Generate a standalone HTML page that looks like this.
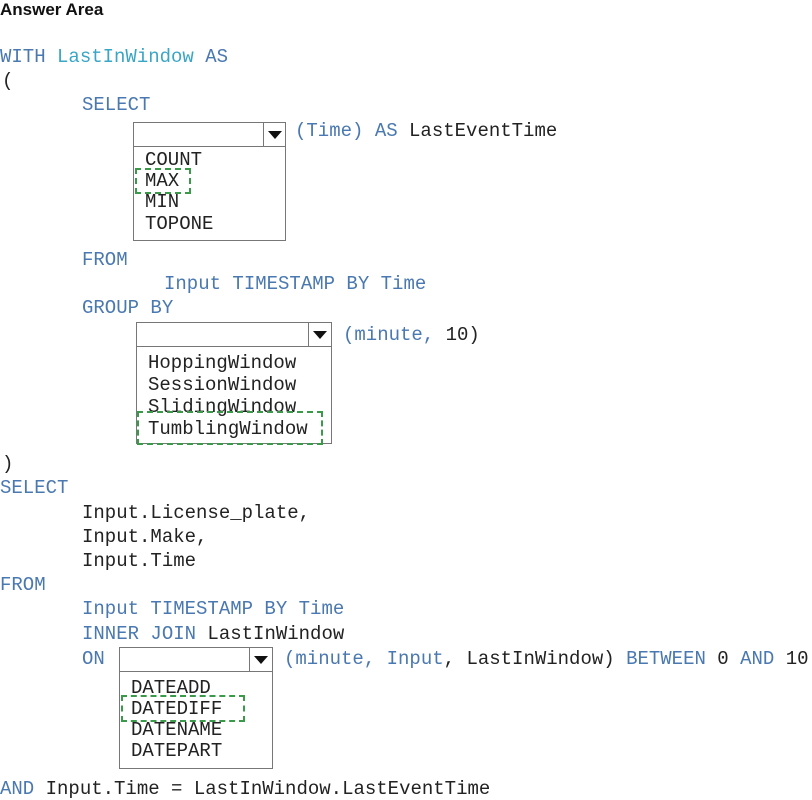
<!DOCTYPE html>
<html><head><meta charset="utf-8"><style>
body{margin:0;width:812px;height:800px;background:#fff;position:relative;overflow:hidden;font-family:"Liberation Mono",monospace;font-size:19px;color:#222}
.t{position:absolute;white-space:pre;line-height:22px;height:22px}
.k{color:#4a78b0}.c{color:#3aa6c6}
.h{position:absolute;left:0;top:0;font-family:"Liberation Sans",sans-serif;font-weight:bold;font-size:17px;color:#111;line-height:20px}
.box{position:absolute;border:1px solid #777;background:#fff}
.hd{position:absolute;border:1px solid #777;background:#fff}
.ar{position:absolute;top:0;bottom:0;right:0;border-left:1px solid #777}
.ar:after{content:"";position:absolute;left:50%;top:50%;margin-left:-7px;margin-top:-4px;border-left:7px solid transparent;border-right:7px solid transparent;border-top:8px solid #111}
.g{position:absolute;border:2px dashed #3a9a4a}
</style></head><body>
<div class="h">Answer Area</div>
<div class="t k" style="left:0;top:46px">WITH <span class="c">LastInWindow</span> AS</div>
<div class="t" style="left:2px;top:70px">(</div>
<div class="t k" style="left:82px;top:94px">SELECT</div>
<div class="hd" style="left:133px;top:122px;width:151px;height:23px"><div class="ar" style="width:21px"></div></div>
<div class="box" style="left:133px;top:146px;width:151px;height:93px"></div>
<div class="t" style="left:145px;top:149px">COUNT</div>
<div class="t" style="left:145px;top:170px">MAX</div>
<div class="t" style="left:145px;top:191px">MIN</div>
<div class="t" style="left:145px;top:213px">TOPONE</div>
<div class="g" style="left:135px;top:168px;width:52px;height:22px"></div>
<div class="t" style="left:295px;top:120px"><span class="k">(Time) AS</span> LastEventTime</div>
<div class="t k" style="left:82px;top:249px">FROM</div>
<div class="t k" style="left:164px;top:273px">Input TIMESTAMP BY Time</div>
<div class="t k" style="left:82px;top:297px">GROUP BY</div>
<div class="hd" style="left:136px;top:322px;width:194px;height:23px"><div class="ar" style="width:22px"></div></div>
<div class="box" style="left:136px;top:346px;width:194px;height:96px"></div>
<div class="t" style="left:148px;top:352px">HoppingWindow</div>
<div class="t" style="left:148px;top:374px">SessionWindow</div>
<div class="t" style="left:148px;top:396px">SlidingWindow</div>
<div class="t" style="left:148px;top:418px">TumblingWindow</div>
<div class="g" style="left:137px;top:411px;width:182px;height:30px"></div>
<div class="t" style="left:343px;top:324px"><span class="k">(minute,</span> 10)</div>
<div class="t" style="left:2px;top:453px">)</div>
<div class="t k" style="left:0;top:477px">SELECT</div>
<div class="t" style="left:82px;top:502px">Input.License_plate,</div>
<div class="t" style="left:82px;top:526px">Input.Make,</div>
<div class="t" style="left:82px;top:550px">Input.Time</div>
<div class="t k" style="left:0;top:574px">FROM</div>
<div class="t k" style="left:82px;top:598px">Input TIMESTAMP BY Time</div>
<div class="t" style="left:82px;top:623px"><span class="k">INNER JOIN</span> LastInWindow</div>
<div class="t k" style="left:82px;top:648px">ON</div>
<div class="hd" style="left:119px;top:647px;width:152px;height:23px"><div class="ar" style="width:22px"></div></div>
<div class="box" style="left:119px;top:671px;width:152px;height:96px"></div>
<div class="t" style="left:131px;top:677px">DATEADD</div>
<div class="t" style="left:131px;top:698px">DATEDIFF</div>
<div class="t" style="left:131px;top:719px">DATENAME</div>
<div class="t" style="left:131px;top:740px">DATEPART</div>
<div class="g" style="left:121px;top:695px;width:120px;height:23px"></div>
<div class="t" style="left:284px;top:648px"><span class="k">(minute,</span> <span class="k">Input</span>, LastInWindow) <span class="k">BETWEEN</span> 0 <span class="k">AND</span> 10</div>
<div class="t" style="left:0;top:778px"><span class="k">AND</span> Input.Time = LastInWindow.LastEventTime</div>
</body></html>
